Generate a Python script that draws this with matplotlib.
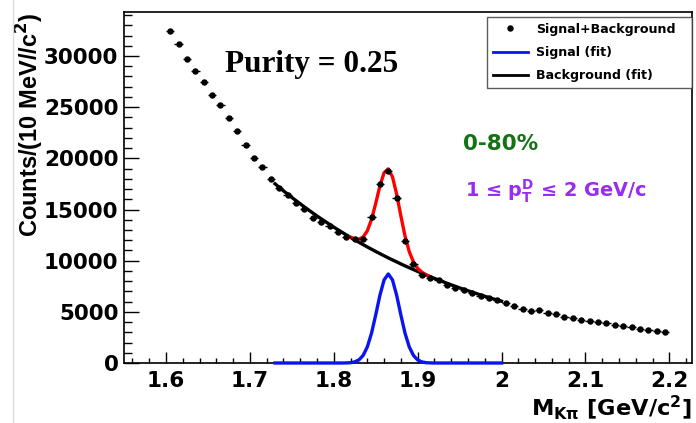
import numpy as np
import matplotlib
matplotlib.use("Agg")
import matplotlib.pyplot as plt
from matplotlib.lines import Line2D
from matplotlib.ticker import MultipleLocator, FuncFormatter

plt.rcParams["font.family"] = ["DejaVu Sans"]
plt.rcParams["font.weight"] = "bold"
plt.rcParams["mathtext.fontset"] = "dejavusans"
plt.rcParams["mathtext.default"] = "bf"

# ── Data ──────────────────────────────────────────────────────────────────────

# bin centres, 10 MeV bins
mass = [
    1.605, 1.615, 1.625, 1.635, 1.645, 1.655, 1.665, 1.675, 1.685, 1.695,
    1.705, 1.715, 1.725, 1.735, 1.745, 1.755, 1.765, 1.775, 1.785, 1.795,
    1.805, 1.815, 1.825, 1.835, 1.845, 1.855, 1.865, 1.875, 1.885, 1.895,
    1.905, 1.915, 1.925, 1.935, 1.945, 1.955, 1.965, 1.975, 1.985, 1.995,
    2.005, 2.015, 2.025, 2.035, 2.045, 2.055, 2.065, 2.075, 2.085, 2.095,
    2.105, 2.115, 2.125, 2.135, 2.145, 2.155, 2.165, 2.175, 2.185, 2.195,
]
counts = [
    32440, 31140, 29680, 28580, 27470, 26200, 25190, 23900, 22690, 21330,
    20060, 19180, 18010, 17120, 16420, 15610, 15030, 14210, 13800, 13350,
    12850, 12350, 12150, 12130, 14250, 17500, 18790, 16160, 11970, 9670,
    8630, 8350, 8070, 7650, 7330, 7100, 6840, 6580, 6320, 6120,
    5870, 5540, 5310, 5120, 5210, 4890, 4820, 4460, 4410, 4170,
    4140, 4010, 3920, 3750, 3590, 3490, 3330, 3230, 3140, 3070,
]

# fit curves sampled every 5 MeV from 1.73 to 2.00
fit_mass = np.linspace(1.73, 2.00, 55)
background_fit = [
    17510, 17170, 16830, 16510, 16180, 15870, 15560, 15250, 14950, 14660,
    14370, 14090, 13820, 13550, 13280, 13020, 12770, 12520, 12270, 12030,
    11800, 11570, 11340, 11120, 10900, 10690, 10480, 10270, 10070, 9880,
    9680, 9490, 9310, 9130, 8950, 8770, 8600, 8430, 8270, 8110,
    7950, 7790, 7640, 7490, 7340, 7200, 7060, 6920, 6790, 6650,
    6520, 6400, 6270, 6150, 6030,
]
signal_fit = [
    0, 0, 0, 0, 0, 0, 0, 0, 0, 0,
    0, 0, 0, 0, 0, 0, 0, 10, 30, 110,
    300, 740, 1570, 2900, 4690, 6610, 8120, 8700, 8120, 6610,
    4690, 2900, 1570, 740, 300, 110, 30, 10, 0, 0,
    0, 0, 0, 0, 0, 0, 0, 0, 0, 0,
    0, 0, 0, 0, 0,
]
# total fit drawn only around the peak
total_range = (1.82, 1.915)

purity = 0.25
centrality = "0-80%"
pt_bin = "1 ≤ $p_T^D$ ≤ 2 GeV/c"

# ── Figure ────────────────────────────────────────────────────────────────────

W, H = 696, 423
fig = plt.figure(figsize=(W / 100, H / 100), dpi=100)
ax = fig.add_axes([124 / W, 1 - 363 / H, (692 - 124) / W, (363 - 12) / H])

bg = np.array(background_fit, dtype=float)
sig = np.array(signal_fit, dtype=float)
sel = (fit_mass >= total_range[0] - 1e-9) & (fit_mass <= total_range[1] + 1e-9)

ax.plot(fit_mass, bg, color="black", lw=2.4, zorder=3)
ax.plot(fit_mass[sel], bg[sel] + sig[sel], color="red", lw=2.4, zorder=4)
ax.plot(fit_mass, sig, color="#0a14f0", lw=2.4, zorder=5, clip_on=False)
ax.errorbar(mass, counts, xerr=0.005, fmt="o", color="black", ms=3.6,
            elinewidth=1.0, capsize=0, zorder=6)

ax.set_xlim(1.55, 2.227)
ax.set_ylim(0, 34300)

ax.xaxis.set_major_locator(MultipleLocator(0.1))
ax.xaxis.set_minor_locator(MultipleLocator(0.02))
ax.yaxis.set_major_locator(MultipleLocator(5000))
ax.yaxis.set_minor_locator(MultipleLocator(1000))
ax.xaxis.set_major_formatter(FuncFormatter(lambda v, p: f"{v:g}"))
ax.yaxis.set_major_formatter(FuncFormatter(lambda v, p: f"{v:.0f}"))

ax.tick_params(axis="both", which="both", direction="in", top=False, right=False,
               labelsize=15.5, width=1.0)
ax.tick_params(axis="y", which="major", length=10.8, pad=4)
ax.tick_params(axis="y", which="minor", length=5.5)
ax.tick_params(axis="x", which="major", length=8, pad=6)
ax.tick_params(axis="x", which="minor", length=3.6)
for lab in ax.get_xticklabels() + ax.get_yticklabels():
    lab.set_fontweight("bold")
for s in ax.spines.values():
    s.set_linewidth(1.2)

ax.set_ylabel("Counts/(10 MeV//c$^2$)", fontsize=17, fontweight="bold", loc="top",
              family="Liberation Sans")
ax.yaxis.set_label_coords(-0.137, 1.0)
ax.set_xlabel(r"M$_{K\pi}$ [GeV/c$^2$]", fontsize=16.2, fontweight="bold", loc="right")
ax.xaxis.set_label_coords(1.0, -0.088)

ax.text(0.178, 0.829, f"Purity = {purity:.2f}", transform=ax.transAxes,
        family="Liberation Serif", fontweight="bold", fontsize=22.5, va="baseline")
ax.text(0.597, 0.607, centrality, transform=ax.transAxes, color="#137313",
        fontsize=15.5, fontweight="bold", va="baseline")
ax.text(0.600, 0.473, pt_bin, transform=ax.transAxes, color="#9a2bf0",
        fontsize=13.9, fontweight="bold", va="baseline")

handles = [
    Line2D([], [], marker="o", ls="none", color="black", ms=3.6),
    Line2D([], [], color="#0a14f0", lw=2),
    Line2D([], [], color="black", lw=2),
]
leg = ax.legend(handles, ["Signal+Background", "Signal (fit)", "Background (fit)"],
                loc="upper left", bbox_to_anchor=(0.639, 0.786, 0.361, 0.2),
                mode="expand", borderaxespad=0,
                frameon=True, fancybox=False, handlelength=2.8,
                handletextpad=0.65, borderpad=0.45, labelspacing=0.82,
                prop={"weight": "bold", "size": 9.1})
leg.get_frame().set_edgecolor("#333333")
leg.get_frame().set_linewidth(1.0)

fig.add_artist(Line2D([13 / W, 13 / W], [0, 1], color="#dcdcdc", lw=1))

fig.savefig("out.png", dpi=100)
